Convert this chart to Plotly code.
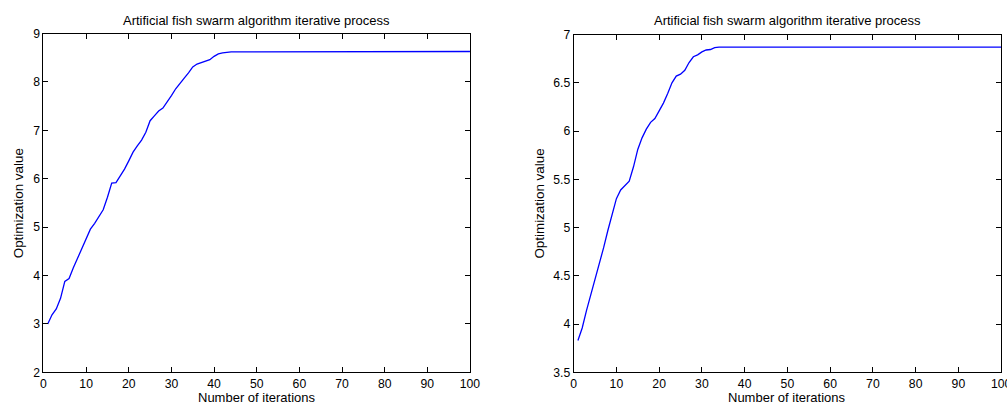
import plotly.graph_objects as go

# ---- data ----
iterations = list(range(1, 101))

left_head = [3.00, 3.19, 3.31, 3.53, 3.88, 3.94, 4.16, 4.36, 4.56, 4.79,
             4.96, 5.08, 5.22, 5.36, 5.62, 5.91, 5.92, 6.06, 6.20, 6.37,
             6.55, 6.68, 6.80, 6.96, 7.20, 7.30, 7.40, 7.46, 7.58, 7.72,
             7.86, 7.98, 8.08, 8.19, 8.31, 8.37, 8.40, 8.42, 8.46, 8.53,
             8.58, 8.60, 8.615, 8.62, 8.62, 8.62, 8.62, 8.62, 8.62, 8.62]
left_tail = [8.63] * 50
left_values = left_head + left_tail

right_head = [3.83, 3.96, 4.14, 4.30, 4.46, 4.62, 4.79, 4.97, 5.14, 5.30,
              5.39, 5.44, 5.48, 5.63, 5.81, 5.93, 6.02, 6.09, 6.13, 6.21,
              6.29, 6.39, 6.50, 6.57, 6.59, 6.63, 6.71, 6.77, 6.79, 6.82,
              6.84, 6.845, 6.865]
right_tail = [6.87] * 67
right_values = right_head + right_tail

title_text = "Artificial fish swarm algorithm iterative process"
xlabel = "Number of iterations"
ylabel = "Optimization value"

W, H = 1022, 420
FONT = "Liberation Sans, Arial, sans-serif"

fig = go.Figure()
fig.add_trace(go.Scatter(x=iterations, y=left_values, mode="lines",
                         line=dict(color="#0000ff", width=1.3),
                         xaxis="x", yaxis="y", showlegend=False))
fig.add_trace(go.Scatter(x=iterations, y=right_values, mode="lines",
                         line=dict(color="#0000ff", width=1.3),
                         xaxis="x2", yaxis="y2", showlegend=False))

axis_common = dict(showgrid=False, zeroline=False, showline=True, linecolor="#000000",
                   linewidth=1, mirror="ticks", ticks="inside", ticklen=5,
                   tickcolor="#000000", tickwidth=1,
                   tickfont=dict(family=FONT, size=12.2, color="#000000"))

lx0, lx1 = 41 / W, 473 / W
rx0, rx1 = 578 / W, 1011 / W
ly0, ly1 = 1 - 378 / H, 1 - 27.5 / H
ry0, ry1 = 1 - 378 / H, 1 - 28.5 / H

fig.update_layout(
    width=W, height=H, autosize=False,
    margin=dict(l=0, r=0, t=0, b=0),
    paper_bgcolor="white", plot_bgcolor="white",
    xaxis=dict(domain=[lx0, lx1], range=[0, 100], dtick=10, anchor="y", **axis_common),
    yaxis=dict(domain=[ly0, ly1], range=[2, 9], dtick=1, anchor="x", **axis_common),
    xaxis2=dict(domain=[rx0, rx1], range=[0, 100], dtick=10, anchor="y2", **axis_common),
    yaxis2=dict(domain=[ry0, ry1], range=[3.5, 7], dtick=0.5, anchor="x2", **axis_common),
)

ann = []
for (x0, x1, y0, y1, ylab_x) in [(lx0, lx1, ly0, ly1, 16.5), (rx0, rx1, ry0, ry1, 543)]:
    xc = (x0 + x1) / 2
    yc = (y0 + y1) / 2
    ann.append(dict(text=title_text, x=xc, y=1 - 13.5 / H, xref="paper", yref="paper",
                    showarrow=False, xanchor="center", yanchor="middle",
                    font=dict(family=FONT, size=13, color="#000000")))
    ann.append(dict(text=xlabel, x=xc, y=1 - 404 / H, xref="paper", yref="paper",
                    showarrow=False, xanchor="center", yanchor="middle",
                    font=dict(family=FONT, size=13, color="#000000")))
    ann.append(dict(text=ylabel, x=ylab_x / W, y=yc, xref="paper", yref="paper",
                    showarrow=False, xanchor="center", yanchor="middle", textangle=-90,
                    font=dict(family=FONT, size=13.4, color="#000000")))
fig.update_layout(annotations=ann)

fig.write_html("out.html",
               config=dict(responsive=False, displayModeBar=False, staticPlot=True),
               post_script="document.body.style.margin='0';document.body.style.overflow='hidden';")
